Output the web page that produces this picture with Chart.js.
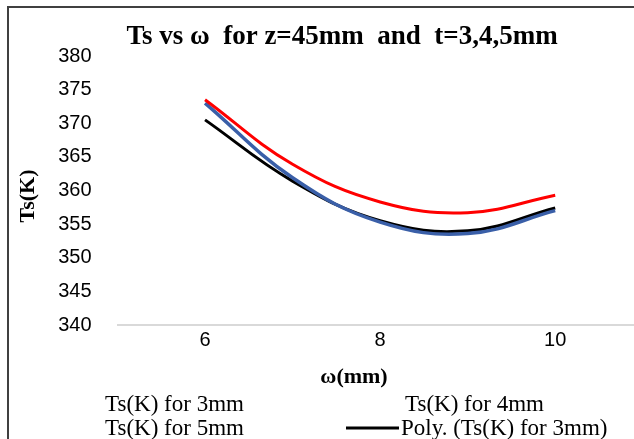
<!DOCTYPE html>
<html>
<head>
<meta charset="utf-8">
<style>
    html, body { margin: 0; padding: 0; background: #fff; overflow: hidden; }
    #wrap { position: relative; width: 634px; height: 439px; }
</style>
</head>
<body>
<div id="wrap"><canvas id="tsChart" width="634" height="439"></canvas></div>
<script src="https://cdn.jsdelivr.net/npm/chart.js"></script>
<script>
    // values
    const omega = [6, 7, 8, 9, 10];
    const ts3mm = [370.5, 361.4, 355.5, 354.0, 357.4];
    const ts4mm = [373.5, 363.9, 358.3, 356.7, 359.3];
    const ts5mm = [373.0, 361.9, 355.3, 353.6, 357.0];
    const xTicks = [6, 8, 10];
    const yMin = 340, yMax = 380, yStep = 5;
    const seriesNames = ["Ts(K) for 3mm", "Ts(K) for 4mm", "Ts(K) for 5mm", "Poly. (Ts(K) for 3mm)"];

    const toPoints = ys => omega.map((x, i) => ({x: x, y: ys[i]}));

    // frame, titles and the 2x2 legend
    const decor = {
        id: 'decor',
        afterDraw(chart) {
            const ctx = chart.ctx;
            ctx.save();
            ctx.fillStyle = '#000';
            ctx.strokeStyle = '#404040';
            ctx.lineWidth = 2;
            ctx.beginPath();
            ctx.moveTo(8, 439);
            ctx.lineTo(8, 7);
            ctx.lineTo(634, 7);
            ctx.stroke();

            ctx.textBaseline = 'alphabetic';
            ctx.textAlign = 'center';
            ctx.font = 'bold 27px "Liberation Serif"';
            ctx.fillText('Ts vs \u03c9  for z=45mm  and  t=3,4,5mm', 342, 44);

            ctx.font = 'bold 22px "Liberation Serif"';
            ctx.fillText('\u03c9(mm)', 354, 383);

            ctx.save();
            ctx.translate(34, 196);
            ctx.rotate(-Math.PI / 2);
            ctx.fillText('Ts(K)', 0, 0);
            ctx.restore();

            ctx.textAlign = 'left';
            ctx.font = '23px "Liberation Serif"';
            ctx.fillText(seriesNames[0], 105, 411);
            ctx.fillText(seriesNames[1], 405, 411);
            ctx.fillText(seriesNames[2], 105, 435);
            ctx.fillText(seriesNames[3], 401, 435);
            ctx.strokeStyle = '#000';
            ctx.lineWidth = 3;
            ctx.beginPath();
            ctx.moveTo(346, 428);
            ctx.lineTo(399, 428);
            ctx.stroke();
            ctx.restore();
        }
    };

    const ctx = document.getElementById('tsChart').getContext('2d');
    new Chart(ctx, {
        type: 'scatter',
        data: {
            datasets: [
                {
                    label: seriesNames[0],
                    data: toPoints(ts3mm),
                    showLine: false,
                    pointRadius: 0,
                    borderColor: '#000'
                },
                {
                    label: seriesNames[1],
                    data: toPoints(ts4mm),
                    showLine: true,
                    borderColor: '#ff0000',
                    borderWidth: 3,
                    pointRadius: 0,
                    tension: 0.4
                },
                {
                    label: seriesNames[2],
                    data: toPoints(ts5mm),
                    showLine: true,
                    borderColor: '#3a5fa8',
                    borderWidth: 3.5,
                    pointRadius: 0,
                    tension: 0.4
                },
                {
                    label: seriesNames[3],
                    data: toPoints(ts3mm),
                    showLine: true,
                    borderColor: '#000',
                    borderWidth: 3,
                    pointRadius: 0,
                    tension: 0.4,
                    order: 1
                }
            ]
        },
        options: {
            responsive: false,
            animation: false,
            events: [],
            layout: {padding: {top: 56, left: 0, right: 0, bottom: 0}},
            plugins: {
                legend: {display: false},
                title: {display: false},
                tooltip: {enabled: false}
            },
            scales: {
                x: {
                    type: 'linear',
                    min: 5,
                    max: 10.9,
                    afterBuildTicks: s => { s.ticks = xTicks.map(v => ({value: v})); },
                    afterFit: s => { s.height = 114; },
                    grid: {color: 'transparent', drawTicks: false},
                    border: {display: true, color: '#d9d9d9', width: 2},
                    ticks: {
                        color: '#000',
                        padding: 3,
                        font: {family: '"Liberation Sans"', size: 20}
                    }
                },
                y: {
                    min: yMin,
                    max: yMax,
                    afterFit: s => { s.width = 117.5; },
                    grid: {display: false, drawTicks: false},
                    border: {display: false},
                    ticks: {
                        stepSize: yStep,
                        color: '#000',
                        padding: 26,
                        font: {family: '"Liberation Sans"', size: 20}
                    }
                }
            }
        },
        plugins: [decor]
    });
</script>
</body>
</html>
